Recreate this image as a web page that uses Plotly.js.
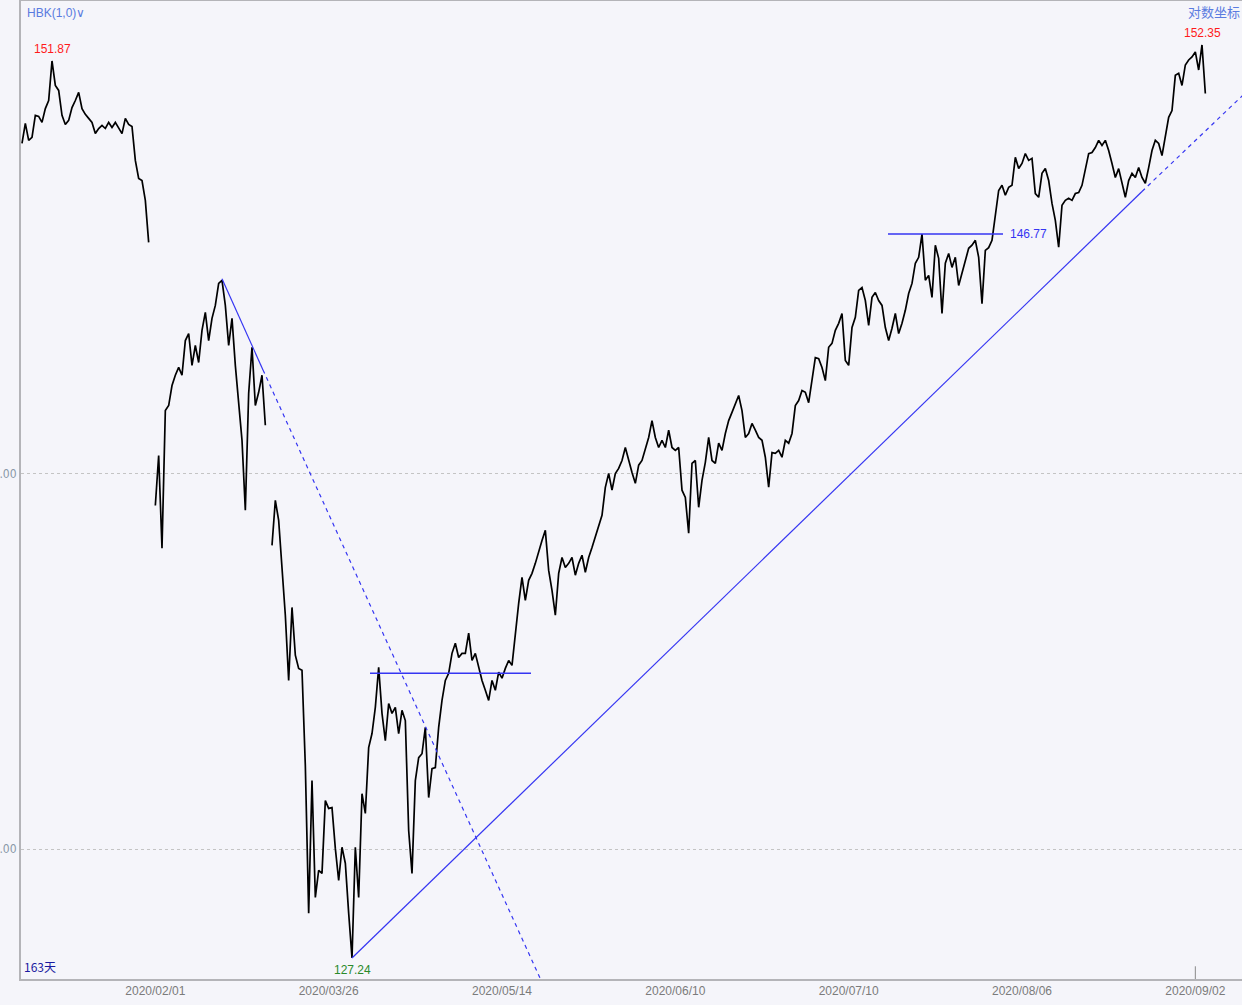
<!DOCTYPE html>
<html><head><meta charset="utf-8">
<script src="https://cdn.plot.ly/plotly-3.0.1.min.js"></script>
<style>html,body{margin:0;padding:0;background:#f5f5fa;}#chart{width:1242px;height:1005px;}</style>
</head><body><div id="chart"></div>
<script>
// price path (one reading every bar step), null = price gap
const prices = [
149.42,150.01,149.51,149.60,150.25,150.22,150.04,150.45,150.69,151.87,
151.14,150.99,150.25,149.98,150.10,150.48,150.69,150.93,150.45,150.28,
150.16,150.04,149.71,149.86,149.95,149.86,150.04,149.89,150.04,149.86,
149.71,150.16,149.98,149.92,148.92,148.39,148.33,147.75,146.53,null,
139.12,140.50,137.95,141.75,141.89,142.45,142.74,142.96,142.74,143.72,
143.92,143.02,143.58,143.10,144.01,144.52,143.72,144.35,144.72,145.35,
145.44,144.72,143.58,144.35,143.02,142.03,140.92,138.99,142.23,143.53,
141.89,142.26,142.74,141.34,null,138.03,139.26,138.71,137.49,136.14,
134.40,136.35,135.07,134.72,134.67,132.16,128.37,131.77,128.77,129.46,
129.38,131.25,131.05,131.07,130.02,129.20,130.05,129.64,128.37,127.24,
130.05,128.77,131.43,130.92,132.63,133.00,133.69,134.75,133.53,132.81,
133.79,133.53,133.69,133.00,133.61,133.34,130.48,129.38,131.77,132.37,
132.47,133.16,131.33,132.08,132.11,133.16,133.87,134.40,134.59,135.12,
135.39,135.01,135.12,135.12,135.66,134.93,135.12,134.75,134.40,134.14,
133.87,134.40,134.14,134.62,134.46,134.72,134.93,134.80,135.66,136.46,
137.16,136.54,137.08,137.27,137.54,137.89,138.16,138.44,137.35,136.81,
136.14,137.27,137.70,137.43,137.54,137.70,137.22,137.54,137.76,137.30,
137.70,137.97,138.25,138.52,138.85,139.62,140.00,139.54,140.00,140.14,
140.36,140.72,140.36,140.03,139.73,140.23,140.36,140.72,141.00,141.47,
141.00,140.72,140.92,140.72,141.20,140.72,140.64,140.72,139.54,139.34,
138.36,140.28,140.36,139.07,139.81,140.31,141.00,140.36,140.28,140.84,
140.64,141.11,141.47,141.70,141.95,142.17,141.75,141.00,141.11,141.39,
141.20,141.00,140.92,140.45,139.62,140.58,140.56,140.64,140.45,140.92,
140.84,141.11,141.89,142.03,142.31,142.26,141.97,142.59,143.24,143.21,
142.96,142.59,143.53,143.64,144.01,144.21,144.49,143.16,143.02,144.09,
144.38,145.15,145.23,144.86,144.15,144.95,145.09,144.86,144.72,144.09,
143.72,144.07,144.49,143.92,144.21,144.58,145.06,145.35,145.93,146.10,
146.77,145.44,145.58,144.95,146.45,146.07,144.49,145.93,146.21,145.81,
146.10,145.29,145.64,145.95,146.36,146.45,146.59,146.10,144.77,146.30,
146.38,146.59,147.37,148.04,148.19,147.90,148.13,148.19,149.01,148.68,
148.83,149.12,148.92,148.98,147.95,147.84,148.54,148.68,148.33,147.66,
147.17,146.39,147.61,147.75,147.81,147.75,147.95,147.98,148.19,148.68,
149.12,149.15,149.30,149.51,149.36,149.51,149.21,148.83,148.42,148.68,
148.25,147.84,148.33,148.54,148.42,148.71,148.42,148.25,148.71,149.21,
149.51,149.42,149.06,149.60,150.19,150.39,151.44,151.50,151.14,151.75,
151.90,151.99,152.14,151.60,152.35,150.90
];
const barIndex = prices.map((_, i) => i);

const tickIdx = [40, 92, 144, 196, 248, 300, 352];
const tickLabels = ['2020/02/01','2020/03/26','2020/05/14','2020/06/10','2020/07/10','2020/08/06','2020/09/02'];
const gridPrices = [130, 140];
const gridLabels = ['130.00', '140.00'];

// drawn trend lines (bar index, price)
const downSolidX = [60, 72.3],   downSolidY = [145.48, 142.89];
const downDashX  = [72.3, 155.6], downDashY = [142.89, 126.70];
const upSolidX   = [99, 336],    upSolidY   = [127.24, 148.01];
const upDashX    = [336, 366.5], upDashY    = [148.01, 150.87];
const lowLevelX  = [104.4, 152.7], lowLevelY = [134.59, 134.59];
const highLevelX = [259.8, 294.3], highLevelY = [146.77, 146.77];

// marked extremes
const hiLeft = {i: 9, p: 151.87};
const hiRight = {i: 354, p: 152.35};
const lowMark = {i: 99, p: 127.24};

const BLUE = '#3535f2';
const traces = [
  {x: barIndex, y: prices, type: 'scatter', mode: 'lines', connectgaps: false,
   line: {color: '#000000', width: 1.7}, hoverinfo: 'skip'},
  {x: downSolidX, y: downSolidY, mode: 'lines', line: {color: BLUE, width: 1.2}},
  {x: downDashX, y: downDashY, mode: 'lines', line: {color: BLUE, width: 1.2, dash: '4px,4px'}},
  {x: upSolidX, y: upSolidY, mode: 'lines', line: {color: BLUE, width: 1.2}},
  {x: upDashX, y: upDashY, mode: 'lines', line: {color: BLUE, width: 1.2, dash: '4px,4px'}},
  {x: lowLevelX, y: lowLevelY, mode: 'lines', line: {color: BLUE, width: 1.5}},
  {x: highLevelX, y: highLevelY, mode: 'lines', line: {color: BLUE, width: 1.5}}
];

const font = 'Liberation Sans, Arial, sans-serif';
const narrow = 'Liberation Sans Narrow, DejaVu Sans Condensed, Arial Narrow, sans-serif';
const annotations = [
  {x: hiLeft.i, y: Math.log10(hiLeft.p), text: hiLeft.p.toFixed(2), showarrow: false,
   xanchor: 'center', yanchor: 'bottom', yshift: 3, font: {family: font, size: 12, color: '#ff1a1a'}},
  {x: hiRight.i, y: Math.log10(hiRight.p), text: hiRight.p.toFixed(2), showarrow: false,
   xanchor: 'center', yanchor: 'bottom', yshift: 3, font: {family: font, size: 12, color: '#ff1a1a'}},
  {x: lowMark.i, y: Math.log10(lowMark.p), text: lowMark.p.toFixed(2), showarrow: false,
   xanchor: 'center', yanchor: 'top', yshift: -3, font: {family: font, size: 12, color: '#2a8a2a'}},
  {x: highLevelX[1], y: Math.log10(highLevelY[1]), text: highLevelY[1].toFixed(2), showarrow: false,
   xanchor: 'left', yanchor: 'middle', xshift: 5, font: {family: font, size: 12, color: BLUE}},
  {xref: 'paper', yref: 'paper', x: 0.0033, y: 0.9877, text: 'HBK(1,0)∨', showarrow: false,
   xanchor: 'left', yanchor: 'middle', font: {family: font, size: 12, color: '#5a7be0'}},
  {xref: 'paper', yref: 'paper', x: 1, y: 0.9888, text: '对数坐标', showarrow: false,
   xanchor: 'right', yanchor: 'middle', font: {family: 'Noto Sans CJK SC, sans-serif', size: 13, color: '#5a7be0'}},
  {xref: 'paper', yref: 'paper', x: 0.0005, y: 0.0123, text: '163天', showarrow: false,
   xanchor: 'left', yanchor: 'middle', font: {family: 'Noto Sans CJK SC, sans-serif', size: 12, color: '#1a1aa0'}}
];

const layout = {
  width: 1242, height: 1005,
  margin: {l: 21, r: 0, t: 1, b: 26},
  paper_bgcolor: '#f5f5fa', plot_bgcolor: '#f5f5fa',
  showlegend: false,
  xaxis: {range: [-0.3, 366], tickmode: 'array', tickvals: tickIdx, ticktext: tickLabels,
          showgrid: false, zeroline: false, showline: true, mirror: true, linecolor: '#b4b4b8', linewidth: 2,
          ticks: '', tickfont: {family: font, size: 12, color: '#7b7b7b'}},
  yaxis: {type: 'log', range: [2.10282, 2.18661], tickmode: 'array', tickvals: gridPrices, ticktext: gridLabels,
          showgrid: true, gridcolor: '#c4c4c4', griddash: '3px,3px', gridwidth: 1,
          zeroline: false, showline: true, linecolor: '#b4b4b8', linewidth: 2,
          ticks: '', tickfont: {family: narrow, size: 12, color: '#8a98a8'}},
  shapes: [
    {type: 'line', xref: 'x', yref: 'paper', x0: tickIdx[tickIdx.length - 1], x1: tickIdx[tickIdx.length - 1],
     y0: 0, y1: 0.013, line: {color: '#8a8a8a', width: 1}}
  ],
  annotations: annotations
};

Plotly.newPlot('chart', traces, layout, {displayModeBar: false, staticPlot: true});
</script>
</body></html>
